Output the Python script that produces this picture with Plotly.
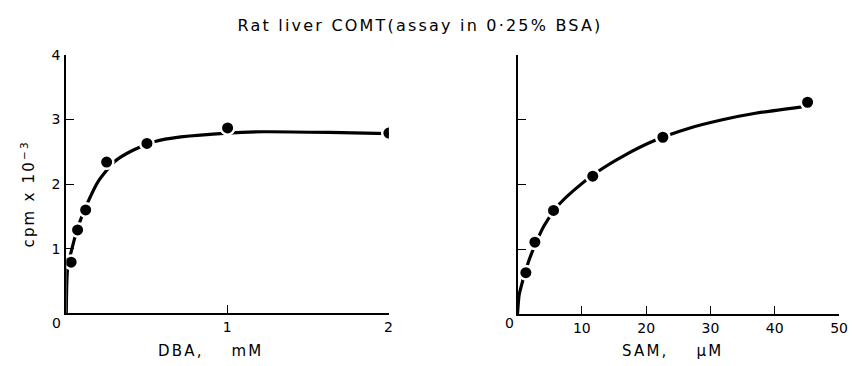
import plotly.graph_objects as go

# ---- data ----
dba_x = [0.03, 0.07, 0.12, 0.25, 0.5, 1.0, 2.0]
dba_y = [0.79, 1.29, 1.60, 2.34, 2.63, 2.87, 2.79]
dba_curve_x = [0.0, 0.008, 0.039, 0.08, 0.13, 0.20, 0.30, 0.41, 0.55, 0.71, 1.0, 1.22, 1.63, 2.0]
dba_curve_y = [0.0, 0.69, 1.04, 1.39, 1.70, 2.05, 2.35, 2.52, 2.66, 2.73, 2.79, 2.81, 2.80, 2.78]

sam_x = [1.3, 2.7, 5.6, 11.7, 22.6, 45.1]
sam_y = [0.64, 1.11, 1.60, 2.13, 2.73, 3.27]
sam_curve_x = [0.0, 0.26, 0.77, 1.54, 2.57, 4.11, 6.16, 8.74, 12.33, 16.44, 21.57, 26.7, 31.85, 36.98, 44.2]
sam_curve_y = [0.0, 0.30, 0.50, 0.76, 1.03, 1.36, 1.66, 1.91, 2.19, 2.44, 2.69, 2.87, 3.00, 3.10, 3.20]

dba_ticks = [1, 2]
dba_ticklabels = ["1", "2"]
sam_ticks = [10, 20, 30, 40, 50]
sam_ticklabels = ["10", "20", "30", "40", "50"]
y_ticks = [1, 2, 3, 4]
y_ticklabels = ["1", "2", "3", "4"]

title = "Rat liver COMT(assay in 0\u00b725% BSA)"
ylab = "cpm x 10<sup>\u22123</sup>"
xlab1 = "DBA,\u00a0\u00a0\u00a0\u00a0mM"
xlab2 = "SAM,\u00a0\u00a0\u00a0\u00a0\u03bcM"

FONT = "DejaVu Sans"
W, H = 856, 366

fig = go.Figure()

line_style = dict(color="black", width=3.2, shape="spline", smoothing=0.6)
mk = dict(color="black", size=13.5, line=dict(color="white", width=2.5))

fig.add_trace(go.Scatter(x=dba_curve_x, y=dba_curve_y, mode="lines", line=line_style,
                         xaxis="x", yaxis="y", hoverinfo="skip"))
fig.add_trace(go.Scatter(x=dba_x, y=dba_y, mode="markers", marker=mk, xaxis="x", yaxis="y"))
fig.add_trace(go.Scatter(x=sam_curve_x, y=sam_curve_y, mode="lines", line=line_style,
                         xaxis="x2", yaxis="y2", hoverinfo="skip"))
fig.add_trace(go.Scatter(x=sam_x, y=sam_y, mode="markers", marker=mk, xaxis="x2", yaxis="y2"))

# pixel -> paper
def px(x):
    return x / W

def py(y):
    return 1 - y / H

tickfont = dict(family=FONT, size=14, color="black")
common_axis = dict(showgrid=False, zeroline=False, showline=True, linecolor="black",
                   linewidth=2, ticks="inside", ticklen=8, tickwidth=1, tickcolor="black",
                   tickfont=tickfont, fixedrange=True)

fig.update_layout(
    width=W, height=H,
    margin=dict(l=0, r=0, t=0, b=0),
    paper_bgcolor="white", plot_bgcolor="white",
    showlegend=False,
    xaxis=dict(domain=[px(67), px(393)], range=[0, 2], anchor="y",
               tickvals=dba_ticks, ticktext=dba_ticklabels, **common_axis),
    yaxis=dict(domain=[py(312), py(48)], range=[0, 4], anchor="x",
               tickvals=y_ticks, ticktext=y_ticklabels, **common_axis),
    xaxis2=dict(domain=[px(523), px(848)], range=[0, 50], anchor="y2",
                tickvals=sam_ticks, ticktext=sam_ticklabels, **common_axis),
    yaxis2=dict(domain=[py(313), py(48)], range=[0, 4], anchor="x2",
                tickvals=y_ticks, showticklabels=False, **common_axis),
)

ann_font = dict(family=FONT, size=15, color="black")
anns = [
    dict(text=title, x=px(424), y=py(18), font=dict(family=FONT, size=16, color="black")),
    dict(text=ylab, x=px(28), y=py(190), textangle=-90, font=ann_font),
    dict(text=xlab1, x=px(213), y=py(351), font=ann_font),
    dict(text=xlab2, x=px(680), y=py(351), font=ann_font),
    dict(text="0", x=px(58), y=py(322), font=tickfont),
    dict(text="0", x=px(516), y=py(322), font=tickfont),
]
for a in anns:
    a.update(xref="paper", yref="paper", showarrow=False, xanchor="center", yanchor="middle")
fig.update_layout(annotations=anns)

post = """
document.querySelectorAll('.annotation-text').forEach(function(t){
  t.style.letterSpacing = '2.2px';
});
document.querySelectorAll('.xtick text, .ytick text').forEach(function(t){
  t.style.letterSpacing = '1px';
});
"""

fig.write_html("out.html", post_script=post)
